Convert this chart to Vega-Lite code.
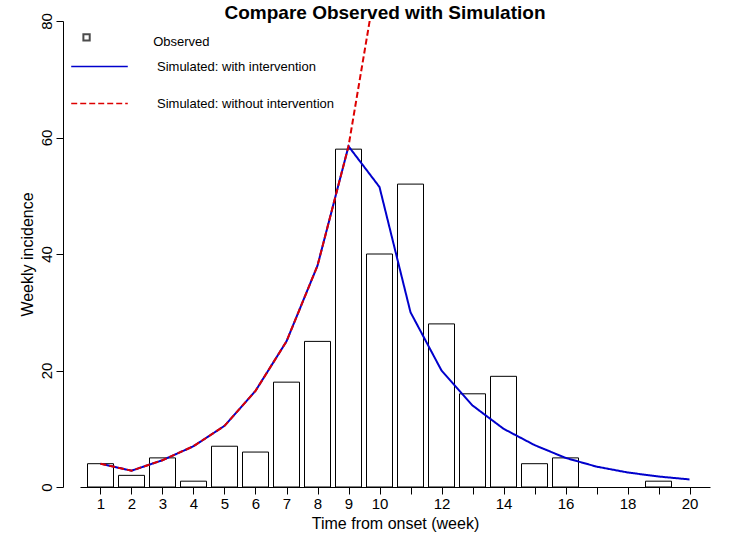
{
"$schema":"https://vega.github.io/schema/vega-lite/v6.json",
"width":630,"height":466,
"autosize":{"type":"none"},
"padding":{"left":80,"top":21,"right":40,"bottom":64},
"background":"white",
"config":{"font":"Liberation Sans","view":{"stroke":null}},
"title":{"text":"Compare Observed with Simulation","fontSize":19,"fontWeight":"bold","offset":-10,"anchor":"middle","dx":-10},
"datasets":{
"obs":[{"week":1,"n":4},{"week":2,"n":2},{"week":3,"n":5},{"week":4,"n":1},{"week":5,"n":7},{"week":6,"n":6},{"week":7,"n":18},{"week":8,"n":25},{"week":9,"n":58},{"week":10,"n":40},{"week":11,"n":52},{"week":12,"n":28},{"week":13,"n":16},{"week":14,"n":19},{"week":15,"n":4},{"week":16,"n":5},{"week":17,"n":0},{"week":18,"n":0},{"week":19,"n":1},{"week":20,"n":0}],
"sim":[{"week":1,"v":4,"s":"Simulated: with intervention"},{"week":2,"v":2.8,"s":"Simulated: with intervention"},{"week":3,"v":4.6,"s":"Simulated: with intervention"},{"week":4,"v":7,"s":"Simulated: with intervention"},{"week":5,"v":10.5,"s":"Simulated: with intervention"},{"week":6,"v":16.5,"s":"Simulated: with intervention"},{"week":7,"v":25,"s":"Simulated: with intervention"},{"week":8,"v":38,"s":"Simulated: with intervention"},{"week":9,"v":58.5,"s":"Simulated: with intervention"},{"week":10,"v":51.5,"s":"Simulated: with intervention"},{"week":11,"v":30,"s":"Simulated: with intervention"},{"week":12,"v":20,"s":"Simulated: with intervention"},{"week":13,"v":14,"s":"Simulated: with intervention"},{"week":14,"v":10,"s":"Simulated: with intervention"},{"week":15,"v":7.2,"s":"Simulated: with intervention"},{"week":16,"v":5,"s":"Simulated: with intervention"},{"week":17,"v":3.5,"s":"Simulated: with intervention"},{"week":18,"v":2.5,"s":"Simulated: with intervention"},{"week":19,"v":1.8,"s":"Simulated: with intervention"},{"week":20,"v":1.3,"s":"Simulated: with intervention"},
{"week":1,"v":4,"s":"Simulated: without intervention"},{"week":2,"v":2.8,"s":"Simulated: without intervention"},{"week":3,"v":4.6,"s":"Simulated: without intervention"},{"week":4,"v":7,"s":"Simulated: without intervention"},{"week":5,"v":10.5,"s":"Simulated: without intervention"},{"week":6,"v":16.5,"s":"Simulated: without intervention"},{"week":7,"v":25,"s":"Simulated: without intervention"},{"week":8,"v":38,"s":"Simulated: without intervention"},{"week":9,"v":58.5,"s":"Simulated: without intervention"},{"week":10,"v":90,"s":"Simulated: without intervention"}]
},
"encoding":{
"x":{"type":"quantitative","scale":{"domain":[0.5,20.5],"nice":false,"zero":false},
 "axis":{"title":"Time from onset (week)","values":[1,2,3,4,5,6,7,8,9,10,11,12,13,14,15,16,17,18,19,20],"labelExpr":"indexof([11,13,15,17,19],datum.value)>=0?'':datum.label","grid":false,"domainColor":"black","tickColor":"black","labelColor":"black","titleColor":"black","labelFontSize":15,"titleFontSize":16,"titleFontWeight":"normal","tickSize":7}},
"y":{"type":"quantitative","scale":{"domain":[0,80],"nice":false},
 "axis":{"title":"Weekly incidence","values":[0,20,40,60,80],"grid":false,"offset":17,"labelAngle":-90,"labelAlign":"center","labelBaseline":"bottom","domainColor":"black","tickColor":"black","labelColor":"black","titleColor":"black","labelFontSize":15,"titleFontSize":16,"titleFontWeight":"normal","tickSize":7}}
},
"layer":[
{"data":{"name":"obs"},"transform":[{"filter":"datum.n>0"}],"mark":{"type":"bar","fill":"white","stroke":"black","strokeWidth":1,"size":26},
 "encoding":{"x":{"field":"week"},"y":{"field":"n"}}},
{"data":{"name":"sim"},"mark":{"type":"line","clip":true,"strokeWidth":2},
 "encoding":{"x":{"field":"week"},"y":{"field":"v"},
  "color":{"field":"s","type":"nominal","scale":{"domain":["Simulated: without intervention","Simulated: with intervention"],"range":["#dd0000","#0000cc"]},
   "legend":{"title":null,"orient":"none","legendX":-10,"legendY":16,"labelFontSize":13,"labelLimit":400,"labelOffset":28,"rowPadding":0,"symbolType":"stroke","symbolSize":3200,"symbolStrokeWidth":1.5,"labelColor":"black","values":["Simulated: with intervention","Simulated: without intervention"]}},
  "strokeDash":{"field":"s","type":"nominal","scale":{"domain":["Simulated: without intervention","Simulated: with intervention"],"range":[[6,3],[1,0]]},"legend":null},
  "order":{"field":"s","sort":"ascending"}}},
{"data":{"values":[{"label":"Observed"}]},"mark":{"type":"text","align":"left","fontSize":13,"baseline":"middle"},
 "encoding":{"text":{"field":"label"},"x":{"datum":2.7},"y":{"datum":76.4}}},
{"data":{"values":[{"label":"Observed"}]},"mark":{"type":"square","filled":false,"stroke":"black","size":40},
 "encoding":{"x":{"datum":0.55},"y":{"datum":77.2}}}
]
}
